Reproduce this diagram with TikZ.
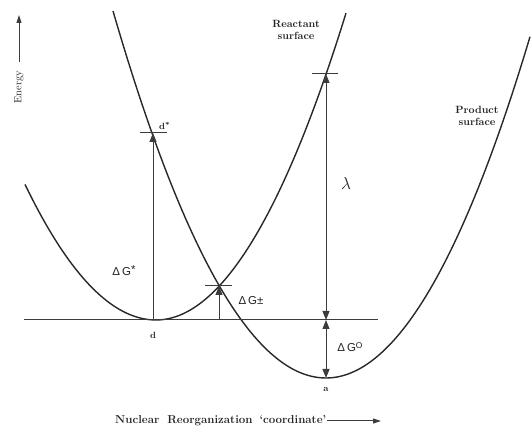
\documentclass[tikz,border=0pt]{standalone}
\usepackage{fontspec}
\usepackage{xcolor}
\usepackage{tikz}
\usetikzlibrary{arrows.meta,calc,positioning}
\newfontfamily\gapfont{Liberation Sans}
\definecolor{curveink}{RGB}{40,40,40}
\definecolor{ruleink}{RGB}{60,60,60}
\definecolor{labelink}{RGB}{35,35,35}
\tikzset{
  surface/.style={draw=curveink,line width=1.4pt,line join=round},
  groundline/.style={draw=ruleink,line width=1pt},
  tickmark/.style={draw=ruleink,line width=1pt},
  gaparrow/.style={-{Triangle[length=9pt,width=7pt]},draw=ruleink,line width=1pt},
  gapboth/.style={{Triangle[length=9pt,width=7pt]}-{Triangle[length=9pt,width=7pt]},
    draw=ruleink,line width=1pt},
  axisarrow/.style={-{Triangle[length=8pt,width=5pt]},draw=ruleink,line width=1pt},
  ptlabel/.style={font=\fontsize{9}{10}\selectfont\bfseries,text=labelink,inner sep=1pt},
  surflabel/.style={font=\fontsize{10.5}{11.5}\selectfont\bfseries,text=labelink,
    align=center,inner sep=0pt},
  gaplabel/.style={font=\fontsize{11.5}{12}\selectfont\gapfont,text=labelink,inner sep=1pt},
  axislabel/.style={text=labelink,inner sep=1pt}
}

\begin{document}
\begin{tikzpicture}[x=1pt,y=-1pt]
  \useasboundingbox (0,0) rectangle (531,427);
  \coordinate (d) at (153,320);
  \coordinate (dstar) at (153,133);
  \coordinate (cross) at (219,286);
  \coordinate (crossfoot) at (219,320);
  \coordinate (lamtop) at (326,74);
  \coordinate (lamfoot) at (326,320);
  \coordinate (a) at (326,378);
  \coordinate (groundw) at (24,320);
  \coordinate (grounde) at (378,320);
  % the two surfaces
  \draw[surface] plot[domain=25:156,samples=40] (\x,{320-0.79*((\x-156)/10)^2})
    -- plot[domain=156:346,samples=50] (\x,{320-0.85*((\x-156)/10)^2});
  \draw[surface] plot[domain=113:326,samples=60] (\x,{378-0.809*((\x-326)/10)^2})
    -- plot[domain=326:530,samples=60] (\x,{378-0.82*((\x-326)/10)^2});
  \draw[groundline] (groundw) -- (grounde);
  % gaps
  \draw[tickmark] ([xshift=-13pt]dstar) -- ([xshift=14pt]dstar);
  \draw[tickmark] ([xshift=-14pt]cross) -- ([xshift=13pt]cross);
  \draw[tickmark] ([xshift=-14pt]lamtop) -- ([xshift=12pt]lamtop);
  \draw[gaparrow] (d) -- (dstar);
  \draw[gaparrow] (crossfoot) -- (cross);
  \draw[gapboth] (lamtop) -- (lamfoot);
  \draw[gapboth] (lamfoot) -- (a);
  \node[ptlabel,below=11pt of d] (dlab) {d};
  \node[ptlabel,above right=2pt and 5pt of dstar] (dstarlab) {d\raisebox{0.6ex}{\fontsize{7}{7}\selectfont*}};
  \node[ptlabel,below=8pt of a] (alab) {a};
  \node[gaplabel] (dgstar) at (124,271) {Δ\,G\raisebox{0.3ex}{*}};
  \node[gaplabel] (dgcross) at (251,301) {Δ\,G±};
  \node[gaplabel] (dgzero) at (350,347) {Δ\,G\raisebox{0.55ex}{\fontsize{8.5}{8.5}\selectfont O}};
  \node[axislabel,font=\fontsize{16}{16}\selectfont] (lamlab) at (346,184) {$\lambda$};
  \node[surflabel] (reactlab) at (296,30) {Reactant\\surface};
  \node[surflabel] (prodlab) at (477,116) {Product\\surface};
  % axes
  \coordinate (etail) at (19,62);
  \coordinate (ehead) at (19,15);
  \draw[axisarrow] (etail) -- (ehead);
  \node[axislabel,rotate=90,font=\fontsize{10.5}{11}\selectfont] (energylab) at (19,87) {Energy};
  \node[axislabel,anchor=west,font=\fontsize{11.5}{12}\selectfont\bfseries] (coordlab) at (114,421)
    {Nuclear\hspace{8pt}Reorganization\hspace{7pt}`coordinate'};
  \coordinate (coordhead) at (381,421);
  \draw[axisarrow] (coordlab.east) -- (coordhead);
\end{tikzpicture}
\end{document}
